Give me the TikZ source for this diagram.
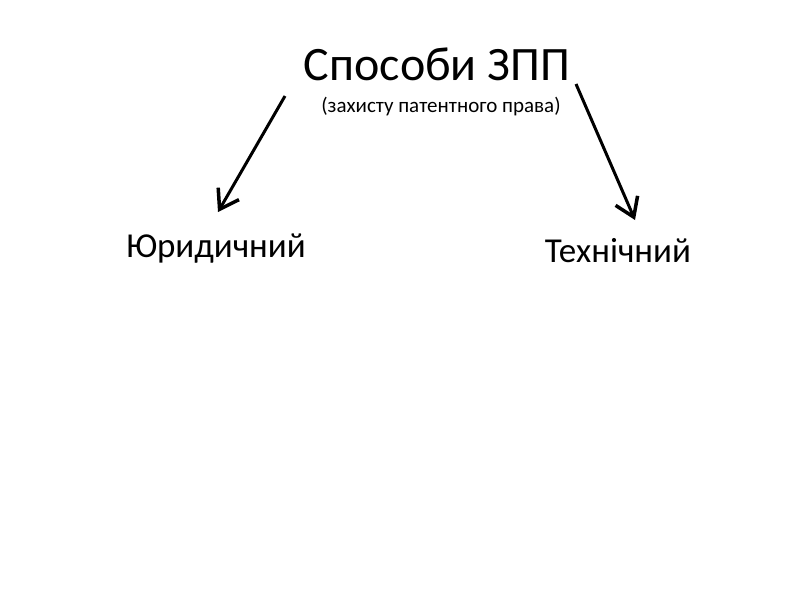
\documentclass[tikz,border=0pt]{standalone}
\usepackage{fontspec}
\setmainfont{Carlito}
\usetikzlibrary{arrows.meta}

\begin{document}
\begin{tikzpicture} [x=1pt, y=-1pt]
    \tikzstyle{way arrow} = [draw,line width=3pt,-{Straight Barb[length=18pt,width=24pt,line width=3.5pt]},black]
    \useasboundingbox (0,0) rectangle (800,600);

      \node[anchor=base,inner sep=0pt] (zpp)   at (437,80)  {\fontsize{48}{50}\selectfont Способи ЗПП};
      \node[anchor=base,inner sep=0pt] (zpp2)  at (441,112) {\fontsize{21}{23}\selectfont (захисту патентного права)};
      \node[anchor=base,inner sep=0pt] (jur)   at (216,257) {\fontsize{35}{37}\selectfont Юридичний};
      \node[anchor=base,inner sep=0pt] (tech)  at (618,262) {\fontsize{35}{37}\selectfont Технічний};

      \coordinate (jurs) at (285,96);
      \coordinate (jure) at (218,212);
      \coordinate (techs) at (576,84);
      \coordinate (teche) at (635,220);

      \draw[way arrow] (jurs) -- (jure);
      \draw[way arrow] (techs) -- (teche);
    \end{tikzpicture}
\end{document}
